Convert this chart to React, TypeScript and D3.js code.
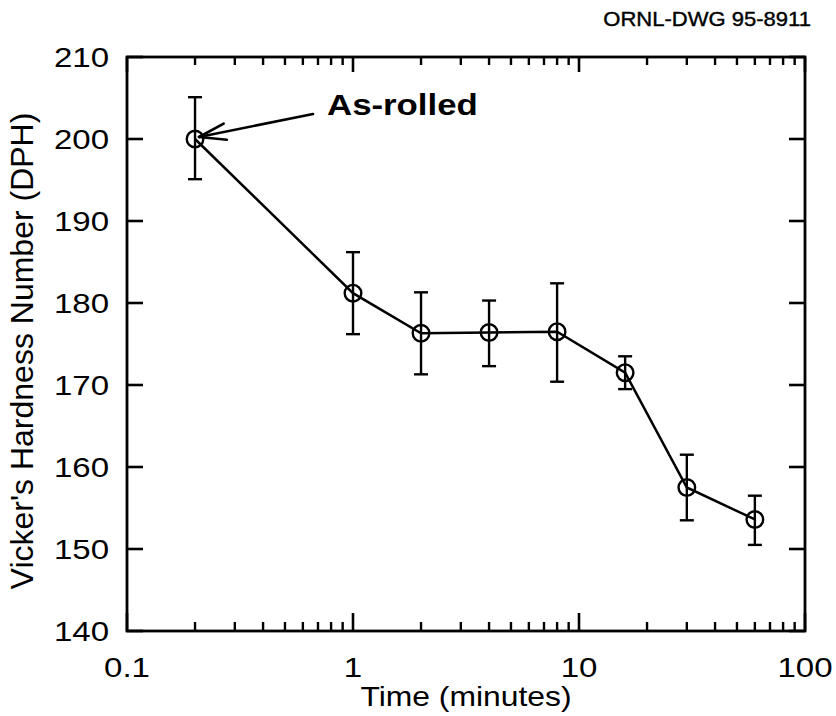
import React from 'react';
import * as d3 from 'd3';

const times = [0.2, 1, 2, 4, 8, 16, 30, 60];
const hardness = [200, 181.2, 176.3, 176.4, 176.5, 171.5, 157.5, 153.6];
const errLow = [195.1, 176.2, 171.3, 172.3, 170.4, 169.5, 153.5, 150.5];
const errHigh = [205.1, 186.2, 181.3, 180.3, 182.4, 173.5, 161.5, 156.5];
const yTicks = [140, 150, 160, 170, 180, 190, 200, 210];
const xTicks = [0.1, 1, 10, 100];
const xTickLabels = ['0.1', '1', '10', '100'];
const xTitle = 'Time (minutes)';
const yTitle = "Vicker's Hardness Number (DPH)";
const annotation = 'As-rolled';
const drawingId = 'ORNL-DWG 95-8911';

const W = 836;
const H = 716;
const L = 127, R = 805, T = 57, B = 631;
const FONT = '"Liberation Sans", Arial, Helvetica, sans-serif';
const SX = 1.18;

export default function App() {
  const x = d3.scaleLog().domain([0.1, 100]).range([L, R]);
  const y = d3.scaleLinear().domain([140, 210]).range([B, T]);

  const minor: number[] = [];
  for (let d = 0.1; d < 100; d *= 10) {
    for (let k = 2; k <= 9; k++) minor.push(+(d * k).toPrecision(3));
  }

  const line = d3
    .line<number>()
    .x((_, i) => x(times[i]))
    .y((v) => y(v));

  // annotation arrow, anchored to the as-rolled data point
  const px = x(times[0]);
  const py = y(hardness[0]);
  const tip = [px + 4, py - 2];
  const tail = [px + 118, py - 25];
  const ang = Math.atan2(tail[1] - tip[1], tail[0] - tip[0]);
  const headLen = 28;
  const spread = (17 * Math.PI) / 180;
  const h1 = [tip[0] + headLen * Math.cos(ang - spread), tip[1] + headLen * Math.sin(ang - spread)];
  const h2 = [tip[0] + headLen * Math.cos(ang + spread), tip[1] + headLen * Math.sin(ang + spread)];

  const capW = 7;

  return (
    <svg
      width={W}
      height={H}
      viewBox={`0 0 ${W} ${H}`}
      style={{ position: 'absolute', left: 0, top: 0, background: '#fff' }}
    >
      <rect x={0} y={0} width={W} height={H} fill="#fff" />
      {/* frame */}
      <rect x={L} y={T} width={R - L} height={B - T} fill="none" stroke="#000" strokeWidth={2.8} />

      {/* y ticks */}
      {yTicks.map((t) => (
        <g key={'y' + t}>
          <line x1={L} x2={L + 16} y1={y(t)} y2={y(t)} stroke="#000" strokeWidth={2.6} />
          <line x1={R} x2={R - 16} y1={y(t)} y2={y(t)} stroke="#000" strokeWidth={2.6} />
          <text
            transform={`translate(${L - 18},${y(t) + 10}) scale(${SX},1)`}
            textAnchor="end"
            fontFamily={FONT}
            fontSize={28}
            fill="#000"
          >
            {t}
          </text>
        </g>
      ))}

      {/* x major ticks */}
      {xTicks.map((t, i) => (
        <g key={'x' + t}>
          <line x1={x(t)} x2={x(t)} y1={B} y2={B - 18} stroke="#000" strokeWidth={2.6} />
          <line x1={x(t)} x2={x(t)} y1={T} y2={T + 15} stroke="#000" strokeWidth={2.6} />
          <text
            transform={`translate(${x(t)},${677}) scale(${SX},1)`}
            textAnchor="middle"
            fontFamily={FONT}
            fontSize={28}
            fill="#000"
          >
            {xTickLabels[i]}
          </text>
        </g>
      ))}
      {/* x minor ticks */}
      {minor.map((t) => (
        <g key={'m' + t}>
          <line x1={x(t)} x2={x(t)} y1={B} y2={B - 9} stroke="#000" strokeWidth={2.4} />
          <line x1={x(t)} x2={x(t)} y1={T} y2={T + 8} stroke="#000" strokeWidth={2.4} />
        </g>
      ))}

      {/* error bars */}
      {times.map((t, i) => (
        <g key={'e' + i} stroke="#000" strokeWidth={2.4}>
          <line x1={x(t)} x2={x(t)} y1={y(errLow[i])} y2={y(errHigh[i])} />
          <line x1={x(t) - capW} x2={x(t) + capW} y1={y(errLow[i])} y2={y(errLow[i])} />
          <line x1={x(t) - capW} x2={x(t) + capW} y1={y(errHigh[i])} y2={y(errHigh[i])} />
        </g>
      ))}

      {/* connecting line */}
      <path d={line(hardness) || ''} fill="none" stroke="#000" strokeWidth={2.5} />

      {/* markers */}
      {times.map((t, i) => (
        <circle key={'c' + i} cx={x(t)} cy={y(hardness[i])} r={8.3} fill="none" stroke="#000" strokeWidth={2.4} />
      ))}

      {/* annotation */}
      <g stroke="#000" strokeWidth={2.6} fill="none" strokeLinecap="round">
        <line x1={tail[0]} y1={tail[1]} x2={tip[0]} y2={tip[1]} />
        <line x1={tip[0]} y1={tip[1]} x2={h1[0]} y2={h1[1]} />
        <line x1={tip[0]} y1={tip[1]} x2={h2[0]} y2={h2[1]} />
      </g>
      <text
        transform={`translate(${px + 132},${py - 24}) scale(1.16,1)`}
        fontFamily={FONT}
        fontSize={30}
        fontWeight="bold"
        fill="#000"
      >
        {annotation}
      </text>

      {/* axis titles */}
      <text
        transform={`translate(${(L + R) / 2},${706}) scale(${SX},1)`}
        textAnchor="middle"
        fontFamily={FONT}
        fontSize={27}
        fill="#000"
      >
        {xTitle}
      </text>
      <text
        transform={`translate(${33},${351}) rotate(-90)`}
        textAnchor="middle"
        fontFamily={FONT}
        fontSize={32}
        fill="#000"
      >
        {yTitle}
      </text>

      {/* drawing id */}
      <text
        transform={`translate(${811},${26}) scale(1.05,1)`}
        textAnchor="end"
        fontFamily={FONT}
        fontSize={21}
        fill="#000"
        stroke="#000"
        strokeWidth={0.4}
      >
        {drawingId}
      </text>
    </svg>
  );
}
